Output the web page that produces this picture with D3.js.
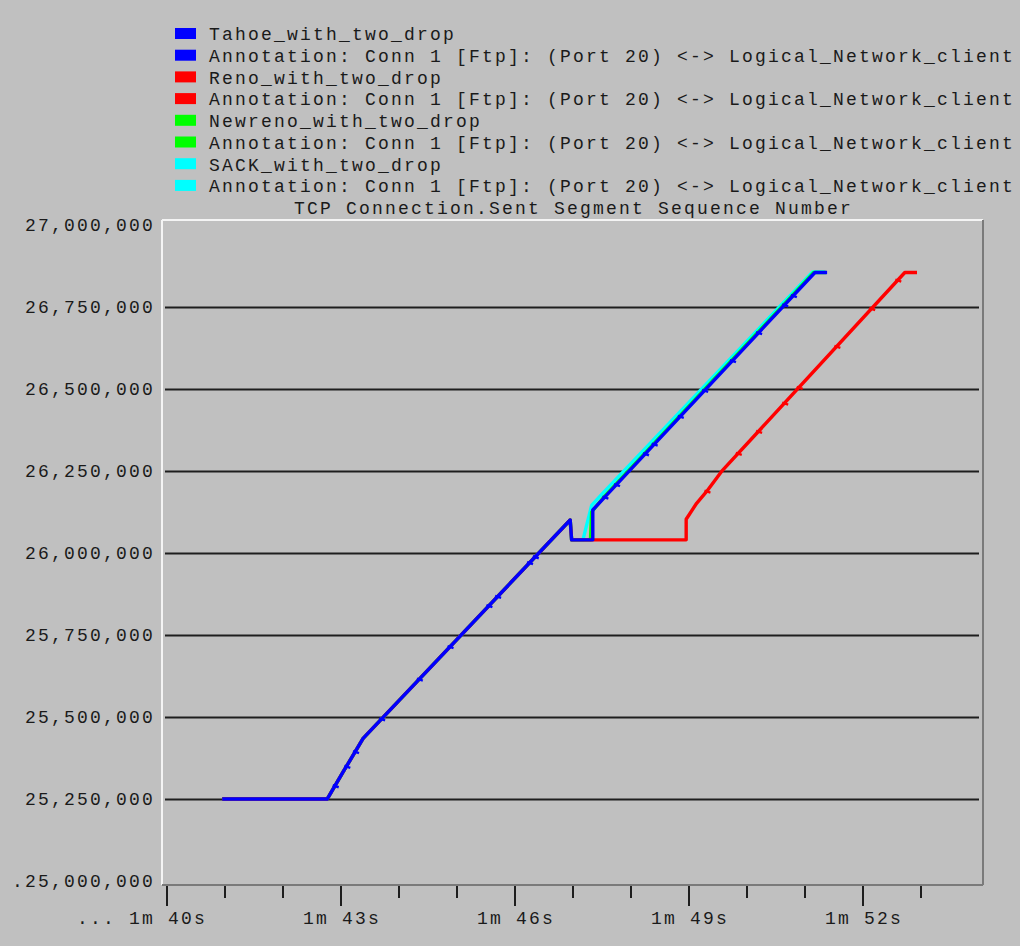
<!DOCTYPE html>
<html>
<head>
<meta charset="utf-8">
<script src="https://cdn.jsdelivr.net/npm/d3@7"></script>
<style>
  html, body { margin: 0; padding: 0; background: #c0c0c0; }
  svg { display: block; }
  text { font-family: "Liberation Mono", "DejaVu Sans Mono", monospace; font-size: 18px; letter-spacing: 2.2px; fill: #1a1a1a; }
</style>
</head>
<body>
<svg id="chart" width="1020" height="946"></svg>
<script>
// Series: [time in seconds, sent segment sequence number]
const tahoe = [
  [100.96, 25250000], [102.77, 25250000], [103.05, 25334000], [103.39, 25435000],
  [106.96, 26100600], [106.985, 26040000], [107.35, 26040000], [107.35, 26131000],
  [107.56, 26171000], [111.18, 26855000], [111.39, 26855000]
];
const reno = [
  [100.96, 25250000], [102.77, 25250000], [103.05, 25334000], [103.39, 25435000],
  [106.96, 26100600], [106.985, 26040000], [108.96, 26040000], [108.96, 26103000],
  [109.14, 26151500], [109.31, 26187000], [109.57, 26248500], [112.73, 26855000],
  [112.94, 26855000]
];
const newreno = [
  [100.96, 25250000], [102.77, 25250000], [103.05, 25334000], [103.39, 25435000],
  [106.96, 26100600], [106.985, 26040000], [107.31, 26040000], [107.33, 26125000],
  [107.52, 26166000], [111.16, 26855000], [111.37, 26855000]
];
const sack = [
  [100.96, 25250000], [102.77, 25250000], [103.05, 25334000], [103.39, 25435000],
  [106.96, 26100600], [106.985, 26040000], [107.18, 26040000], [107.33, 26145000],
  [107.50, 26178000], [111.14, 26857000], [111.35, 26857000]
];

// Retransmitted segments, shown as small notches on the curves
const tahoeMarks = [
  [102.90, 25289000], [103.10, 25348000], [103.25, 25393000], [103.70, 25493000],
  [104.35, 25614000], [104.88, 25713000], [105.55, 25838000], [105.70, 25866000],
  [106.25, 25969000], [106.35, 25987000], [107.55, 26169000], [107.75, 26207000],
  [108.25, 26301000], [108.40, 26330000], [108.85, 26415000], [109.27, 26494000],
  [109.75, 26585000], [110.20, 26670000], [110.65, 26755000], [110.80, 26783000]
];
const renoMarks = [
  [109.31, 26187000], [109.85, 26302000], [110.20, 26369000], [110.65, 26455000],
  [110.90, 26503000], [111.55, 26628000], [112.15, 26743000], [112.60, 26830000]
];

const legendLabels = [
  "Tahoe_with_two_drop",
  "Annotation: Conn 1 [Ftp]: (Port 20) <-> Logical_Network_client",
  "Reno_with_two_drop",
  "Annotation: Conn 1 [Ftp]: (Port 20) <-> Logical_Network_client",
  "Newreno_with_two_drop",
  "Annotation: Conn 1 [Ftp]: (Port 20) <-> Logical_Network_client",
  "SACK_with_two_drop",
  "Annotation: Conn 1 [Ftp]: (Port 20) <-> Logical_Network_client"
];
const legendColors = ["#0000ff", "#0000ff", "#ff0000", "#ff0000", "#00ff00", "#00ff00", "#00ffff", "#00ffff"];
const chartTitle = "TCP Connection.Sent Segment Sequence Number";

const yTicks = [25000000, 25250000, 25500000, 25750000, 26000000, 26250000, 26500000, 26750000, 27000000];
const yTickLabels = [".25,000,000", "25,250,000", "25,500,000", "25,750,000", "26,000,000",
                     "26,250,000", "26,500,000", "26,750,000", "27,000,000"];
const yGridValues = [25250000, 25500000, 25750000, 26000000, 26250000, 26500000, 26750000];
const xMajorTicks = [100, 103, 106, 109, 112];
const xMajorLabels = ["... 1m 40s", "1m 43s", "1m 46s", "1m 49s", "1m 52s"];
const xMinorTicks = [101, 102, 104, 105, 107, 108, 110, 111, 113];

// Layout
const plot = { left: 162, right: 983, top: 220, bottom: 885 };
const svg = d3.select("#chart");

const x = d3.scaleLinear().domain([99.922, 114.078]).range([plot.left, plot.right]);
const y = d3.scaleLinear().domain([24988000, 27015000]).range([plot.bottom, plot.top]);

// Legend
const legend = svg.append("g");
legendLabels.forEach((label, i) => {
  const cy = 34 + i * 21.7;
  legend.append("rect").attr("x", 175).attr("y", cy - 6).attr("width", 21).attr("height", 11)
    .attr("fill", legendColors[i]);
  legend.append("text").attr("x", 209).attr("y", cy).attr("dy", "0.35em").text(label);
});
svg.append("text").attr("x", (plot.left + plot.right) / 2 + 1).attr("y", 208).attr("dy", "0.35em")
  .attr("text-anchor", "middle").text(chartTitle);

// Plot panel edges
svg.append("line").attr("x1", plot.left).attr("x2", plot.right).attr("y1", plot.top).attr("y2", plot.top)
  .attr("stroke", "#f4f4f4").attr("stroke-width", 2);
svg.append("line").attr("x1", plot.left).attr("x2", plot.left).attr("y1", plot.top).attr("y2", plot.bottom)
  .attr("stroke", "#f4f4f4").attr("stroke-width", 2);
svg.append("line").attr("x1", plot.left).attr("x2", plot.right).attr("y1", plot.bottom).attr("y2", plot.bottom)
  .attr("stroke", "#7a7a7a").attr("stroke-width", 2);
svg.append("line").attr("x1", plot.right).attr("x2", plot.right).attr("y1", plot.top).attr("y2", plot.bottom)
  .attr("stroke", "#7a7a7a").attr("stroke-width", 2);

// Horizontal grid
svg.append("g").attr("transform", `translate(${plot.left + 3},0)`)
  .call(d3.axisLeft(y).tickValues(yGridValues).tickSize(-(plot.right - plot.left - 7)).tickFormat(""))
  .call(g => g.select(".domain").remove())
  .call(g => g.selectAll(".tick line").attr("stroke", "#1e1e1e").attr("stroke-width", 2));

// Y labels
svg.append("g").attr("transform", `translate(155,0)`)
  .call(d3.axisLeft(y).tickValues(yTicks).tickSize(0).tickPadding(0)
    .tickFormat((d, i) => yTickLabels[i]))
  .call(g => g.select(".domain").remove())
  .call(g => g.selectAll(".tick text").attr("fill", "#1a1a1a")
    .attr("font-family", null).attr("font-size", null));

// X ticks
const xAxisG = svg.append("g").attr("transform", `translate(0,${plot.bottom + 1})`);
xAxisG.append("g")
  .call(d3.axisBottom(x).tickValues(xMinorTicks).tickSize(12).tickFormat(""))
  .call(g => g.select(".domain").remove())
  .call(g => g.selectAll(".tick line").attr("stroke", "#1e1e1e").attr("stroke-width", 2));
xAxisG.append("g")
  .call(d3.axisBottom(x).tickValues(xMajorTicks).tickSize(20).tickPadding(5)
    .tickFormat((d, i) => xMajorLabels[i]))
  .call(g => g.select(".domain").remove())
  .call(g => g.selectAll(".tick line").attr("stroke", "#1e1e1e").attr("stroke-width", 2))
  .call(g => g.selectAll(".tick text").attr("fill", "#1a1a1a").attr("text-anchor", "end")
    .attr("dx", 40).attr("font-family", null).attr("font-size", null));

// Curves (drawn so that Tahoe ends up on top)
const line = d3.line().x(d => x(d[0])).y(d => y(d[1]));
const curves = [
  { data: sack, color: "#00ffff", marks: [] },
  { data: newreno, color: "#00ff00", marks: [] },
  { data: reno, color: "#ff0000", marks: renoMarks },
  { data: tahoe, color: "#0000ff", marks: tahoeMarks }
];
const curveG = svg.append("g");
curves.forEach(c => {
  curveG.append("path").datum(c.data).attr("d", line)
    .attr("fill", "none").attr("stroke", c.color).attr("stroke-width", 3.4)
    .attr("stroke-linejoin", "round");
  curveG.selectAll(null).data(c.marks).enter().append("path")
    .attr("d", d => {
      const px = x(d[0]), py = y(d[1]);
      return `M${px - 2},${py - 1}L${px + 4},${py + 1}`;
    })
    .attr("stroke", c.color).attr("stroke-width", 2.4).attr("fill", "none");
});
</script>
</body>
</html>
